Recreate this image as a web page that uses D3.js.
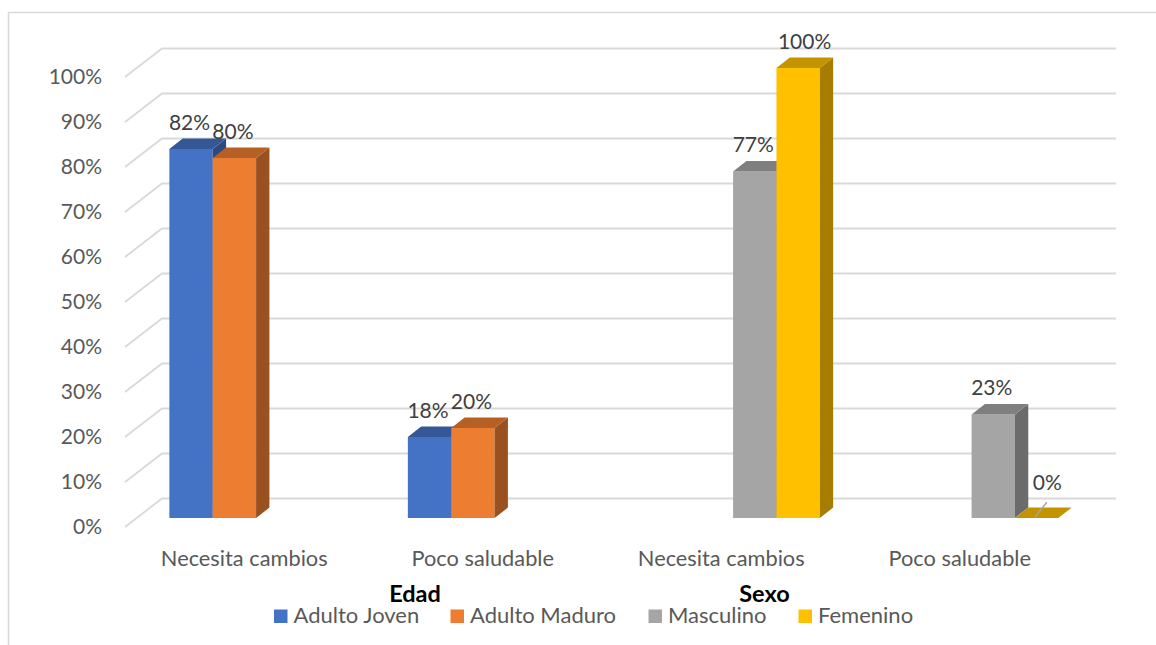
<!DOCTYPE html>
<html>
<head>
<meta charset="utf-8">
<script src="https://cdn.jsdelivr.net/npm/d3@7"></script>
<style>
  html, body { margin: 0; padding: 0; background: #fff; }
  svg { display: block; }
  text { font-family: Lato, "Open Sans", sans-serif; }
</style>
</head>
<body>
<svg id="chart" width="1156" height="645"></svg>
<script>
// Chart data
const categories = ["Necesita cambios", "Poco saludable", "Necesita cambios", "Poco saludable"];
const groupLabels = ["Edad", "Sexo"];
const seriesNames = ["Adulto Joven", "Adulto Maduro", "Masculino", "Femenino"];
const seriesColors = ["#4472C4", "#ED7D31", "#A5A5A5", "#FFC000"];
const adultoJoven = [82, 18, null, null];
const adultoMaduro = [80, 20, null, null];
const masculino = [null, null, 77, 23];
const femenino = [null, null, 100, 0];
const yTickValues = [0, 10, 20, 30, 40, 50, 60, 70, 80, 90, 100];

const seriesValues = [adultoJoven, adultoMaduro, masculino, femenino];

// Layout of the oblique 3D plot box
const svg = d3.select("#chart");
const DX = 37, DY = -28.5;          // floor depth vector (front -> back wall)
const dFront = 0.32, dBack = 0.68;  // depth occupied by the columns
const plotLeft = 125, plotRight = 1079;

const y = d3.scaleLinear().domain([0, 100]).range([527, 77]);
const x0 = d3.scaleBand().domain(d3.range(categories.length)).range([plotLeft, plotRight]).paddingInner(0).paddingOuter(0);
const x1 = d3.scaleBand().domain(d3.range(seriesNames.length)).range([0, x0.bandwidth()]).paddingInner(0).paddingOuter(0.75);

const proj = (x, v, d) => [x + d * DX, y(v) + d * DY];
const shade = (c, k) => { const r = d3.rgb(c); return d3.rgb(r.r * k, r.g * k, r.b * k).formatHex(); };

// Chart area border
svg.append("rect")
  .attr("x", 8.5).attr("y", 12.5).attr("width", 1160).attr("height", 640)
  .attr("fill", "none").attr("stroke", "#D9D9D9").attr("stroke-width", 1.5);

// Gridlines: side-wall diagonal plus back-wall horizontal
const grid = svg.append("g");
yTickValues.forEach(t => {
  const pts = [proj(plotLeft, t, 0), proj(plotLeft, t, 1), proj(plotRight, t, 1)];
  grid.append("polyline")
    .attr("points", pts.map(p => p.join(",")).join(" "))
    .attr("fill", "none").attr("stroke", "#D9D9D9").attr("stroke-width", 1.8);
});

// Value axis labels
svg.append("g").selectAll("text").data(yTickValues).join("text")
  .attr("x", 102).attr("y", d => y(d) + 2)
  .attr("text-anchor", "end").attr("dominant-baseline", "middle")
  .attr("font-size", 21).attr("fill", "#595959")
  .text(d => d + "%");

// Columns
const bars = svg.append("g");
const labels = svg.append("g");
const labelDx = { "2-3": 8 };
categories.forEach((cat, ci) => {
  seriesValues.forEach((vals, si) => {
    const v = vals[ci];
    if (v === null) return;
    const xa = x0(ci) + x1(si), xb = xa + x1.bandwidth();
    const col = seriesColors[si];
    const poly = pts => pts.map(p => p.join(",")).join(" ");
    // front face
    bars.append("polygon")
      .attr("points", poly([proj(xa, 0, dFront), proj(xb, 0, dFront), proj(xb, v, dFront), proj(xa, v, dFront)]))
      .attr("fill", col);
    // right side face
    bars.append("polygon")
      .attr("points", poly([proj(xb, 0, dFront), proj(xb, 0, dBack), proj(xb, v, dBack), proj(xb, v, dFront)]))
      .attr("fill", shade(col, 0.65));
    // top face
    bars.append("polygon")
      .attr("points", poly([proj(xa, v, dFront), proj(xb, v, dFront), proj(xb, v, dBack), proj(xa, v, dBack)]))
      .attr("fill", shade(col, 0.77));

    // value label
    const [fx, fy] = proj((xa + xb) / 2, v, dFront);
    if (v === 0) {
      const [bx, by] = proj((xa + xb) / 2, 0, (dFront + dBack) / 2);
      labels.append("line")
        .attr("x1", bx - 8).attr("y1", by + 4).attr("x2", bx + 3.5).attr("y2", by - 10.5)
        .attr("stroke", "#A6A6A6").attr("stroke-width", 1.5);
      labels.append("text")
        .attr("x", bx + 4).attr("y", by - 22.5)
        .attr("text-anchor", "middle").attr("font-size", 21).attr("fill", "#404040")
        .text(v + "%");
    } else {
      labels.append("text")
        .attr("x", fx - 1.5 + (labelDx[ci + "-" + si] || 0)).attr("y", fy - 19)
        .attr("text-anchor", "middle").attr("font-size", 21).attr("fill", "#404040")
        .text(v + "%");
    }
  });
});

// Category labels
svg.append("g").selectAll("text").data(categories).join("text")
  .attr("x", (d, i) => x0(i) + x0.bandwidth() / 2)
  .attr("y", 566)
  .attr("text-anchor", "middle").attr("font-size", 21.8).attr("fill", "#595959")
  .text(d => d);

// Group titles
const groupX = [415, 764.5];
svg.append("g").selectAll("text").data(groupLabels).join("text")
  .attr("x", (d, i) => groupX[i]).attr("y", 601.5)
  .attr("text-anchor", "middle").attr("font-size", 23.5).attr("font-weight", "bold").attr("fill", "#000")
  .text(d => d);

// Legend
const legendX = [274, 450.5, 648.5, 798.5];
const legend = svg.append("g");
seriesNames.forEach((name, i) => {
  legend.append("rect")
    .attr("x", legendX[i]).attr("y", 609.5).attr("width", 13.5).attr("height", 13.5)
    .attr("fill", seriesColors[i]);
  legend.append("text")
    .attr("x", legendX[i] + 19.5).attr("y", 623)
    .attr("font-size", 22).attr("fill", "#595959")
    .text(name);
});
</script>
</body>
</html>
